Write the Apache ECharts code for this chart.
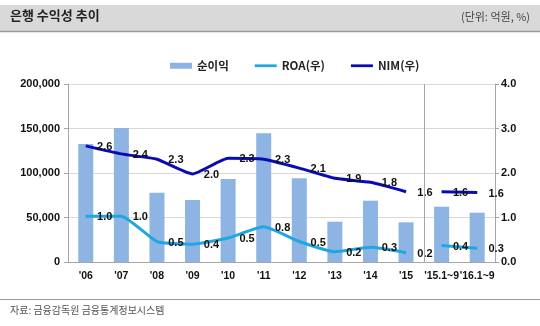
<!DOCTYPE html>
<html><head><meta charset="utf-8">
<script src="https://cdn.jsdelivr.net/npm/echarts@6/dist/echarts.min.js"></script>
<style>html,body{margin:0;padding:0;background:#fff}#c{width:540px;height:326px}</style>
</head><body><div id="c"></div>
<script>
const categories = ["'06","'07","'08","'09","'10","'11","'12","'13","'14","'15","'15.1~9","'16.1~9"];
const netIncome = [132600,150500,77900,69700,93200,144600,94000,45300,68900,44600,62100,55400];
const roaA = [1.03,1.03,0.46,0.40,0.54,0.79,0.46,0.23,0.33,0.21,null,null];
const roaB = [null,null,null,null,null,null,null,null,null,null,0.37,0.31];
const nimA = [2.61,2.43,2.31,1.98,2.33,2.31,2.11,1.88,1.79,1.58,null,null];
const nimB = [null,null,null,null,null,null,null,null,null,null,1.58,1.56];
const titleText = '은행 수익성 추이';
const unitText = '(단위: 억원, %)';
const sourceText = '자료: 금융감독원 금융통계정보시스템';

const FONT = '"Noto Sans CJK KR", "Noto Sans", sans-serif';
const NUM = '"Liberation Sans", Arial, sans-serif';
const chart = echarts.init(document.getElementById('c'), null, {renderer:'canvas'});
const lbl = {show:true, position:'right', distance:11, offset:[0,1], color:'#111', fontSize:11, fontWeight:'bold', fontFamily:NUM,
  formatter: p => p.value == null ? '' : Number(p.value).toFixed(1)};
const lineIcon = 'path://M0,0H24V3H0Z';
function lineSeries(name, data, color){
  return {name, type:'line', yAxisIndex:1, data, symbol:'circle', symbolSize:0.5, showSymbol:true, smooth:0.15,
    lineStyle:{color, width:3}, itemStyle:{color}, label:lbl, z:3};
}
chart.setOption({
  animation:false,
  textStyle:{fontFamily:FONT},
  graphic:[
    {type:'rect', shape:{x:0,y:5,width:540,height:26}, style:{fill:'#d9d9d9'}, z:-1},
    {type:'line', shape:{x1:0,y1:31.5,x2:540,y2:31.5}, style:{stroke:'#9a9a9a', lineWidth:1.5}},
    {type:'line', shape:{x1:0,y1:299.5,x2:540,y2:299.5}, style:{stroke:'#9a9a9a', lineWidth:1}},
    {type:'text', left:10, top:9, style:{text:titleText, font:'bold 13px '+FONT, fill:'#222'}},
    {type:'text', right:10, top:11, style:{text:unitText, font:'11px '+FONT, fill:'#444'}},
    {type:'text', left:10, top:305, style:{text:sourceText, font:'10px '+FONT, fill:'#555'}}
  ],
  legend:{
    top:55, left:165, itemGap:26, itemWidth:22, itemHeight:6,
    textStyle:{fontSize:11.5, fontWeight:'bold', color:'#222', fontFamily:FONT},
    data:[{name:'순이익', icon:'rect'},{name:'ROA(우)', icon:lineIcon},{name:'NIM(우)', icon:lineIcon}]
  },
  grid:{left:68, right:45, top:84, bottom:64},
  xAxis:[{
    type:'category', data:categories,
    axisLine:{lineStyle:{color:'#a6a6a6'}},
    axisTick:{show:false},
    axisLabel:{color:'#111', fontSize:10.5, fontWeight:'bold', fontFamily:NUM, margin:9, interval:0}
  },{
    type:'value', min:0, max:12, show:false
  }],
  yAxis:[{
    type:'value', min:0, max:200000, interval:50000,
    axisLine:{show:true, lineStyle:{color:'#a6a6a6'}},
    axisTick:{show:true, length:4, lineStyle:{color:'#a6a6a6'}},
    splitLine:{lineStyle:{color:'#d9d9d9'}},
    axisLabel:{color:'#111', fontSize:11, fontWeight:'bold', fontFamily:NUM, margin:8,
      formatter: v => v.toLocaleString('en-US')}
  },{
    type:'value', min:0, max:4, interval:1, position:'right',
    axisLine:{show:true, lineStyle:{color:'#a6a6a6'}},
    axisTick:{show:true, length:4, lineStyle:{color:'#a6a6a6'}},
    splitLine:{show:false},
    axisLabel:{color:'#111', fontSize:11, fontWeight:'bold', fontFamily:NUM, margin:6, formatter: v => v.toFixed(1)}
  }],
  series:[
    {name:'순이익', type:'bar', data:netIncome, barWidth:15, itemStyle:{color:'#8eb4e3'}},
    lineSeries('ROA(우)', roaA, '#1fa8e0'),
    lineSeries('ROA(우)', roaB, '#1fa8e0'),
    lineSeries('NIM(우)', nimA, '#0a0ab4'),
    lineSeries('NIM(우)', nimB, '#0a0ab4'),
    {type:'line', xAxisIndex:1, yAxisIndex:0, data:[], silent:true,
      markLine:{silent:true, symbol:'none', label:{show:false}, lineStyle:{color:'#a6a6a6', type:'solid', width:1},
        data:[{xAxis:10}]}}
  ]
});
</script></body></html>
